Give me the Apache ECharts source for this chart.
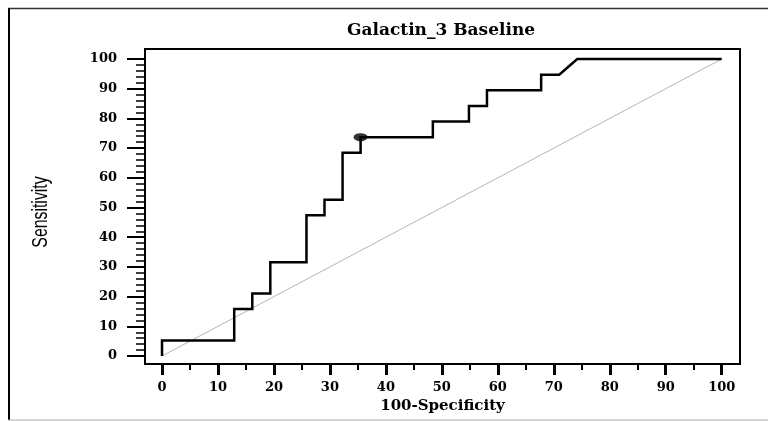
<!DOCTYPE html>
<html>
<head>
<meta charset="utf-8">
<script src="https://cdn.jsdelivr.net/npm/echarts@6/dist/echarts.min.js"></script>
<style>
html,body{margin:0;padding:0;background:#fff;}
#chart{width:768px;height:421px;}
</style>
</head>
<body>
<div id="chart"></div>
<script>
// ROC curve vertices (100-Specificity, Sensitivity)
var fpr = [0, 0, 12.90, 12.90, 16.13, 16.13, 19.35, 19.35, 25.81, 25.81, 29.03, 29.03, 32.26, 32.26, 35.48, 35.48, 48.39, 48.39, 54.84, 54.84, 58.06, 58.06, 67.74, 67.74, 70.97, 74.19, 100];
var tpr = [0, 5.26, 5.26, 15.79, 15.79, 21.05, 21.05, 31.58, 31.58, 47.37, 47.37, 52.63, 52.63, 68.42, 68.42, 73.68, 73.68, 78.95, 78.95, 84.21, 84.21, 89.47, 89.47, 94.74, 94.74, 100, 100];
// Optimal criterion point
var optX = [35.48];
var optY = [73.68];
// Reference (chance) diagonal
var diagX = [0, 100];
var diagY = [0, 100];
// Tick values
var xTicks = [0, 10, 20, 30, 40, 50, 60, 70, 80, 90, 100];
var xMinorTicks = [5, 15, 25, 35, 45, 55, 65, 75, 85, 95];
var yTicks = [0, 10, 20, 30, 40, 50, 60, 70, 80, 90, 100];
var yMinorTicks = [2, 4, 6, 8, 12, 14, 16, 18, 22, 24, 26, 28, 32, 34, 36, 38, 42, 44, 46, 48, 52, 54, 56, 58, 62, 64, 66, 68, 72, 74, 76, 78, 82, 84, 86, 88, 92, 94, 96, 98];
var titleText = 'Galactin_3 Baseline';
var xName = '100-Specificity';
var yName = 'Sensitivity';

function pairs(a, b) { return a.map(function (v, i) { return [v, b[i]]; }); }

var serifBold = { fontFamily: '"DejaVu Serif", "Liberation Serif", serif', fontWeight: 'bold', color: '#000' };
var X_MIN = -3.04, X_MAX = 103.27, Y_MIN = -2.69, Y_MAX = 103.37;

var chart = echarts.init(document.getElementById('chart'), null, { renderer: 'canvas' });
chart.setOption({
  animation: false,
  backgroundColor: '#fff',
  title: {
    text: titleText,
    left: 436,
    top: 17,
    textAlign: 'center',
    textStyle: Object.assign({ fontSize: 17 }, serifBold)
  },
  graphic: [
    { type: 'line', silent: true, shape: { x1: 8, y1: 8.5, x2: 768, y2: 8.5 }, style: { stroke: '#333', lineWidth: 1.5 } },
    { type: 'line', silent: true, shape: { x1: 9, y1: 8, x2: 9, y2: 420 }, style: { stroke: '#000', lineWidth: 2 } },
    { type: 'line', silent: true, shape: { x1: 8, y1: 420, x2: 768, y2: 420 }, style: { stroke: '#aaa', lineWidth: 1 } },
    {
      type: 'text', silent: true, x: 41, y: 212, rotation: Math.PI / 2, scaleX: 0.72,
      style: {
        text: yName, font: 'normal 22px "Liberation Sans", Arial, sans-serif', fill: '#000',
        align: 'center', verticalAlign: 'middle', textAlign: 'center', textVerticalAlign: 'middle'
      }
    }
  ],
  grid: [
    { left: 145, right: 28, top: 49, bottom: 57, show: true, borderColor: '#000', borderWidth: 2, backgroundColor: 'transparent', outerBoundsMode: 'none', containLabel: false }
  ],
  xAxis: [
    {
      type: 'value', gridIndex: 0, min: X_MIN, max: X_MAX, position: 'bottom',
      axisLine: { show: false, onZero: false },
      axisTick: { show: true, inside: false, customValues: xTicks, length: 11, lineStyle: { color: '#000', width: 3 } },
      splitLine: { show: false },
      axisLabel: Object.assign({ fontSize: 13, margin: 17, customValues: xTicks }, serifBold),
      name: xName, nameLocation: 'middle', nameGap: 35, nameMoveOverlap: false,
      nameTextStyle: Object.assign({ fontSize: 15 }, serifBold)
    },
    {
      type: 'value', gridIndex: 0, min: X_MIN, max: X_MAX, position: 'bottom',
      axisLine: { show: false, onZero: false },
      axisTick: { show: true, inside: false, customValues: xMinorTicks, length: 6, lineStyle: { color: '#000', width: 2 } },
      splitLine: { show: false },
      axisLabel: { show: false }
    }
  ],
  yAxis: [
    {
      type: 'value', gridIndex: 0, min: Y_MIN, max: Y_MAX, position: 'left',
      axisLine: { show: false, onZero: false },
      axisTick: { show: true, inside: false, customValues: yTicks, length: 18, lineStyle: { color: '#000', width: 2 } },
      splitLine: { show: false },
      axisLabel: Object.assign({ fontSize: 13, margin: 28, customValues: yTicks }, serifBold)
    },
    {
      type: 'value', gridIndex: 0, min: Y_MIN, max: Y_MAX, position: 'left',
      axisLine: { show: false, onZero: false },
      axisTick: { show: true, inside: false, customValues: yMinorTicks, length: 9, lineStyle: { color: '#000', width: 1.5 } },
      splitLine: { show: false },
      axisLabel: { show: false }
    }
  ],
  series: [
    {
      type: 'line', xAxisIndex: 0, yAxisIndex: 0, data: pairs(diagX, diagY),
      symbol: 'none', silent: true, z: 1,
      lineStyle: { color: '#b5b5b5', width: 1 }
    },
    {
      type: 'line', xAxisIndex: 0, yAxisIndex: 0, data: pairs(fpr, tpr),
      symbol: 'none', z: 3,
      lineStyle: { color: '#000', width: 2.5, join: 'miter' }
    },
    {
      type: 'scatter', xAxisIndex: 0, yAxisIndex: 0, data: pairs(optX, optY),
      symbol: 'circle', symbolSize: [14, 8], z: 4,
      itemStyle: { color: '#000' }
    }
  ]
});
</script>
</body>
</html>
